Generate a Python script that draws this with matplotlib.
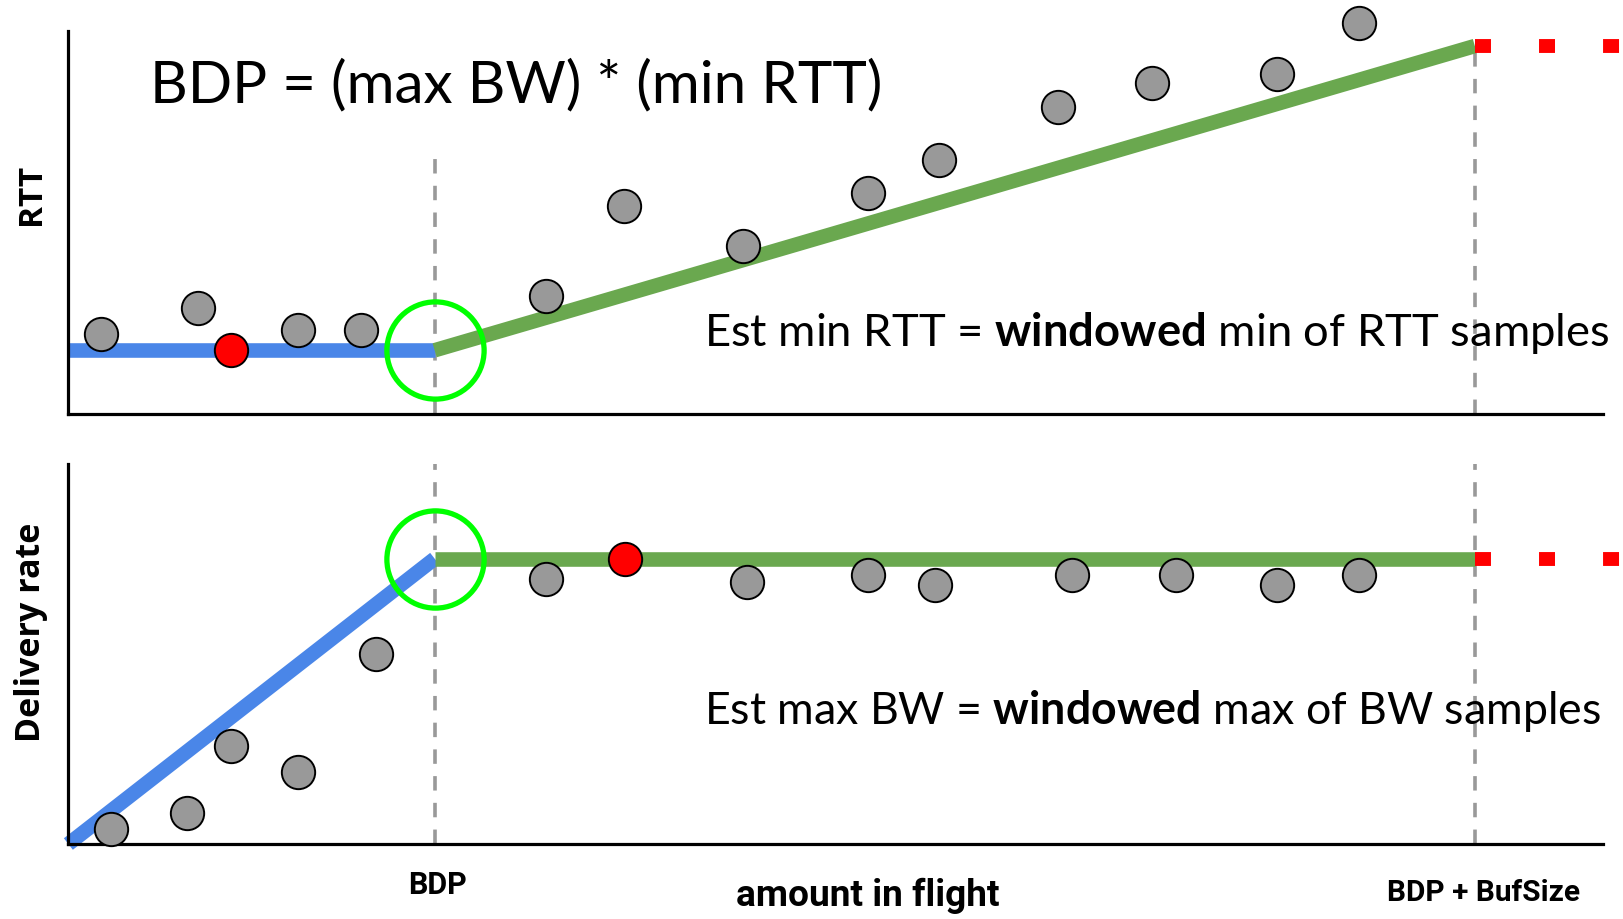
import numpy as np
import matplotlib.pyplot as plt

plt.rcParams['font.family'] = ['Lato', 'DejaVu Sans']
plt.rcParams['mathtext.fontset'] = 'custom'
plt.rcParams['mathtext.rm'] = 'Lato'
plt.rcParams['mathtext.bf'] = 'Lato:bold'

# amount in flight, in units of BDP
bdp = 1.0
bdp_buf = 3.84
x_max = 4.19

# RTT samples (units of min RTT)
rtt_x = [0.09, 0.353, 0.627, 0.799, 1.305, 1.517, 1.842, 2.184, 2.376, 2.701, 2.958, 3.299, 3.523]
rtt_y = [1.26, 1.66, 1.32, 1.32, 1.84, 3.24, 2.63, 3.45, 3.97, 4.79, 5.16, 5.31, 6.10]
rtt_min_x = 0.444
rtt_min_y = 1.0
rtt_top = 5.74          # RTT when buffer is full
rtt_ymax = 5.97

# delivery rate samples (units of max BW)
bw_x = [0.116, 0.325, 0.444, 0.627, 0.839, 1.305, 1.853, 2.184, 2.367, 2.740, 3.023, 3.299, 3.523]
bw_y = [0.054, 0.109, 0.344, 0.254, 0.667, 0.928, 0.917, 0.942, 0.906, 0.942, 0.942, 0.906, 0.942]
bw_max_x = 1.52
bw_max_y = 1.0
bw_ymax = 1.33

blue = '#4a86e8'
green = '#6aa84f'
lime = '#00ff00'
gray = '#999999'

fig = plt.figure(figsize=(16.24, 9.19), dpi=100)
ax1 = fig.add_axes([0.0421, 0.549, 0.945, 0.417])
ax2 = fig.add_axes([0.0421, 0.0816, 0.945, 0.413])

for ax in (ax1, ax2):
    for s in ('top', 'right'):
        ax.spines[s].set_visible(False)
    ax.spines['left'].set_linewidth(2.3)
    ax.spines['bottom'].set_linewidth(2.3)
    ax.set_xticks([])
    ax.set_yticks([])
    ax.set_xlim(0, x_max)
    ax.patch.set_alpha(0)

dot = dict(marker='o', ms=24, mec='black', mew=1.4, ls='none', zorder=5, clip_on=False)
ring = dict(marker='o', ms=70, mfc='none', mec=lime, mew=3.8, ls='none', zorder=6, clip_on=False)
dash = dict(color=gray, lw=2.6, dashes=(4.0, 3.4), zorder=1)
ext = dict(color='red', lw=10, dashes=(1.15, 3.46), dash_capstyle='butt', clip_on=False, zorder=3)
lab = dict(family='Roboto', fontweight='bold')
ylab = dict(family='Open Sans', fontweight='bold', rotation=90, ha='center', va='center')

# --- RTT panel ---
ax1.set_ylim(0, rtt_ymax)
ax1.plot([bdp, bdp], [0, 4.16], **dash)
ax1.plot([bdp_buf, bdp_buf], [0, rtt_top], **dash)
ax1.plot([0, bdp], [rtt_min_y, rtt_min_y], color=blue, lw=10.5, solid_capstyle='butt', zorder=2)
ax1.plot([bdp, bdp_buf], [rtt_min_y, rtt_top], color=green, lw=10.5, solid_capstyle='butt', zorder=2)
ax1.plot([bdp_buf, 4.3], [rtt_top, rtt_top], **ext)
ax1.plot(rtt_x, rtt_y, mfc=gray, **dot)
ax1.plot([rtt_min_x], [rtt_min_y], mfc='red', **dot)
ax1.plot([bdp], [rtt_min_y], **ring)
ax1.text(-0.0243, 0.575, 'RTT', transform=ax1.transAxes, fontsize=24, **ylab)
ax1.text(0.053, 0.857, 'BDP = (max BW) * (min RTT)', transform=ax1.transAxes,
         fontsize=42, va='center', ha='left')
ax1.text(0.414, 0.2135, r'Est min RTT = $\mathbf{windowed}$ min of RTT samples', transform=ax1.transAxes,
         fontsize=32.7, va='center', ha='left')

# --- delivery rate panel ---
ax2.set_ylim(0, bw_ymax)
ax2.axvline(bdp, **dash)
ax2.axvline(bdp_buf, **dash)
ax2.plot([0, bdp], [0, bw_max_y], color=blue, lw=10.5, solid_capstyle='butt', zorder=2, clip_on=False)
ax2.plot([bdp, bdp_buf], [bw_max_y, bw_max_y], color=green, lw=10.5, solid_capstyle='butt', zorder=2)
ax2.plot([bdp_buf, 4.3], [bw_max_y, bw_max_y], **ext)
ax2.plot(bw_x, bw_y, mfc=gray, **dot)
ax2.plot([bw_max_x], [bw_max_y], mfc='red', **dot)
ax2.plot([bdp], [bw_max_y], **ring)
ax2.text(-0.0243, 0.559, 'Delivery rate', transform=ax2.transAxes, fontsize=24.5, **ylab)
ax2.text(0.414, 0.35, r'Est max BW = $\mathbf{windowed}$ max of BW samples', transform=ax2.transAxes,
         fontsize=32.1, va='center', ha='left')

tr = ax2.get_xaxis_transform()
ax2.text(bdp + 0.008, -0.109, 'BDP', transform=tr, ha='center', va='center', fontsize=22, **lab)
ax2.text(bdp_buf + 0.023, -0.128, 'BDP + BufSize', transform=tr, ha='center', va='center',
         fontsize=21.5, **lab)
ax2.text(0.521, -0.136, 'amount in flight', transform=ax2.transAxes, ha='center', va='center',
         fontsize=26.7, **lab)

fig.savefig('out.png', dpi=100, facecolor='white')
